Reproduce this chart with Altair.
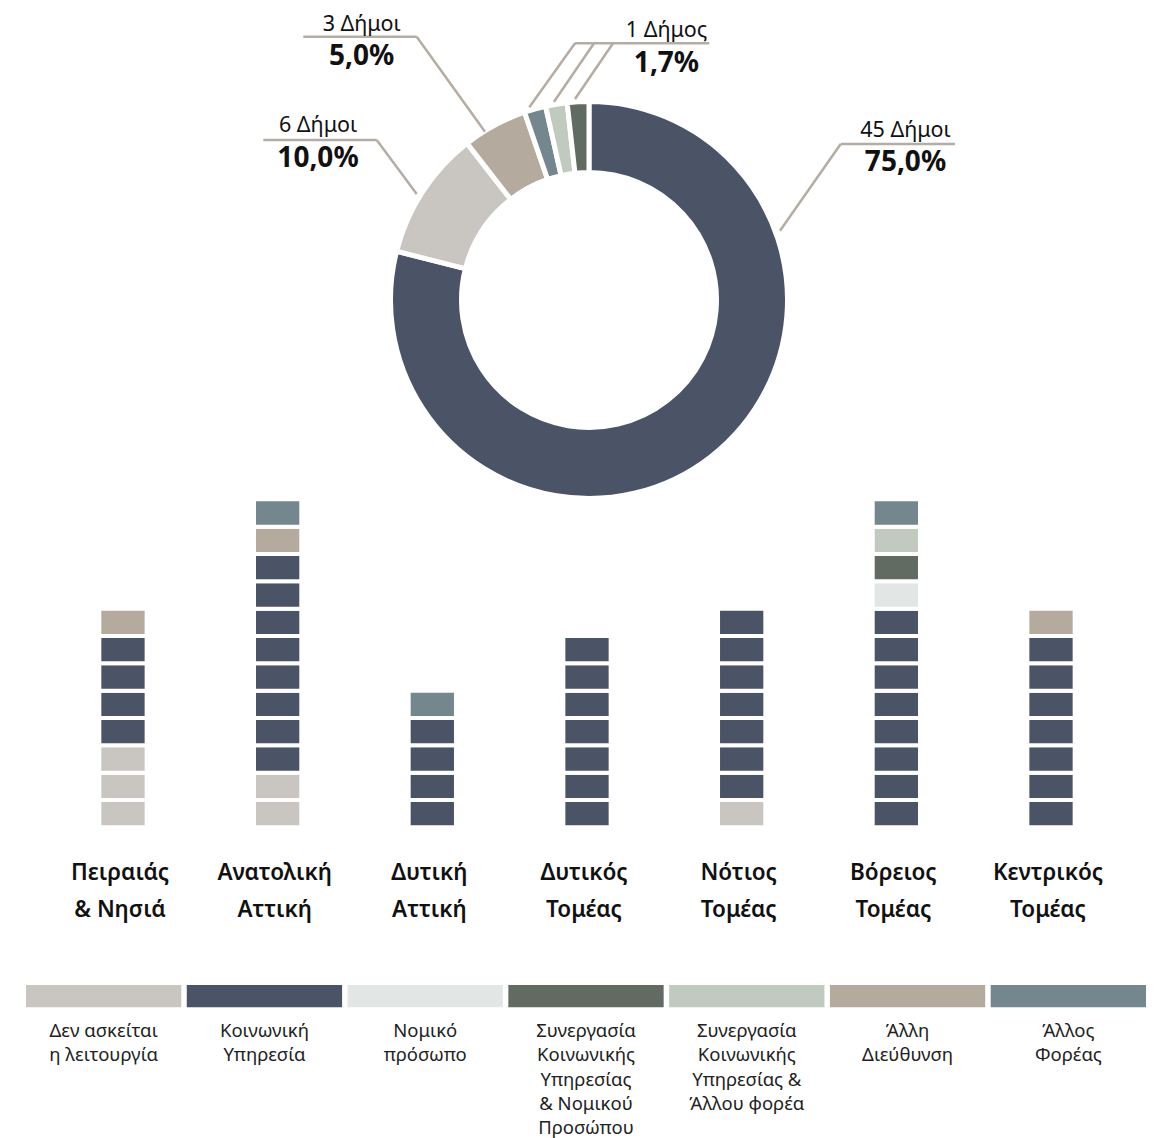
import altair as alt
import pandas as pd

# ---------------- data ----------------
categories = [
    "Δεν ασκείται η λειτουργία",
    "Κοινωνική Υπηρεσία",
    "Νομικό πρόσωπο",
    "Συνεργασία Κοινωνικής Υπηρεσίας & Νομικού Προσώπου",
    "Συνεργασία Κοινωνικής Υπηρεσίας & Άλλου φορέα",
    "Άλλη Διεύθυνση",
    "Άλλος Φορέας",
]
legend_labels = [
    "Δεν ασκείται\nη λειτουργία",
    "Κοινωνική\nΥπηρεσία",
    "Νομικό\nπρόσωπο",
    "Συνεργασία\nΚοινωνικής\nΥπηρεσίας\n& Νομικού\nΠροσώπου",
    "Συνεργασία\nΚοινωνικής\nΥπηρεσίας &\nΆλλου φορέα",
    "Άλλη\nΔιεύθυνση",
    "Άλλος\nΦορέας",
]
colors = ["#C9C6C1", "#4B5366", "#E2E7E5", "#626B61", "#C0CABF", "#B4AA9E", "#74878E"]

regions = ["Πειραιάς & Νησιά", "Ανατολική Αττική", "Δυτική Αττική", "Δυτικός Τομέας",
           "Νότιος Τομέας", "Βόρειος Τομέας", "Κεντρικός Τομέας"]
region_labels = ["Πειραιάς\n& Νησιά", "Ανατολική\nΑττική", "Δυτική\nΑττική", "Δυτικός\nΤομέας",
                 "Νότιος\nΤομέας", "Βόρειος\nΤομέας", "Κεντρικός\nΤομέας"]
# blocks per category (same order as categories), one list per region
counts_peiraias = [3, 4, 0, 0, 0, 1, 0]
counts_anatoliki = [2, 8, 0, 0, 0, 1, 1]
counts_dytiki_attiki = [0, 4, 0, 0, 0, 0, 1]
counts_dytikos = [0, 7, 0, 0, 0, 0, 0]
counts_notios = [1, 7, 0, 0, 0, 0, 0]
counts_voreios = [0, 8, 1, 1, 1, 0, 1]
counts_kentrikos = [0, 7, 0, 0, 0, 1, 0]
region_counts = [counts_peiraias, counts_anatoliki, counts_dytiki_attiki, counts_dytikos,
                 counts_notios, counts_voreios, counts_kentrikos]

donut_categories = [1, 0, 5, 6, 4, 3]   # indices into categories, clockwise from top
donut_counts = [45, 6, 3, 1, 1, 1]
donut_count_labels = ["45 Δήμοι", "6 Δήμοι", "3 Δήμοι", "1 Δήμος"]
donut_pct_labels = ["75,0%", "10,0%", "5,0%", "1,7%"]

# ---------------- layout (pixels inside the chart) ----------------
W, H = 1142, 1130
DONUT_CX, DONUT_CY = 581, 292
label_pos = [(897.5, 129, 163), (310, 123.7, 158.7), (353.7, 22.7, 57), (658.5, 28.7, 63.7)]
leader_segments = [
    (947, 136, 832.7, 136), (832.7, 136, 772, 222.7),
    (255.3, 132, 368.7, 132), (368.7, 132, 408.7, 186),
    (295.3, 28.7, 408.7, 28.7), (408.7, 28.7, 477, 123.7),
    (567, 35.3, 701.3, 35.3), (567, 35.3, 521.3, 99.3),
    (586, 35.3, 546, 93.7), (605, 35.3, 567, 91),
]
COL_RANGE = [37.65, 1120.35]
BLOCK_Y_RANGE = [819.3, 491.3]
BLOCK_MAX = 12

LEG_RANGE = [15.25, 1140.75]

FONT = "Noto Sans"
color_scale = alt.Scale(domain=categories, range=colors)

# ---------------- donut ----------------
donut_df = pd.DataFrame({
    "category": [categories[i] for i in donut_categories],
    "count": donut_counts,
    "order": list(range(len(donut_counts))),
})
donut = alt.Chart(donut_df).mark_arc(
    outerRadius=198.5, innerRadius=127.5, stroke="white", strokeWidth=5
).encode(
    theta=alt.Theta("count:Q", stack=True),
    color=alt.Color("category:N", scale=color_scale, legend=None),
    order=alt.Order("order:Q"),
    x=alt.value(DONUT_CX),
    y=alt.value(DONUT_CY),
)

lead_df = pd.DataFrame(leader_segments, columns=["x", "y", "x2", "y2"])
leaders = alt.Chart(lead_df).mark_rule(color="#B5ADA3", strokeWidth=2.5).encode(
    x=alt.X("x:Q", scale=None, axis=None),
    y=alt.Y("y:Q", scale=None, axis=None),
    x2="x2:Q", y2="y2:Q",
)

lab_df = pd.DataFrame({
    "cnt": donut_count_labels,
    "pct": donut_pct_labels,
    "x": [p[0] for p in label_pos],
    "y1": [p[1] for p in label_pos],
    "y2": [p[2] for p in label_pos],
})
count_text = alt.Chart(lab_df).mark_text(
    font=FONT, fontSize=21.5, color="#111111", align="center", baseline="alphabetic"
).encode(
    x=alt.X("x:Q", scale=None, axis=None),
    y=alt.Y("y1:Q", scale=None, axis=None),
    text="cnt:N",
)
pct_text = alt.Chart(lab_df).mark_text(
    font=FONT, fontSize=28, fontWeight="bold", color="#111111", align="center", baseline="alphabetic"
).encode(
    x=alt.X("x:Q", scale=None, axis=None),
    y=alt.Y("y2:Q", scale=None, axis=None),
    text="pct:N",
)

# ---------------- block columns ----------------
rows = []
for r, cnts in zip(regions, region_counts):
    seq = 0
    for k, n in enumerate(cnts):
        for _ in range(n):
            rows.append({"region": r, "category": categories[k], "seq": seq, "v": 1})
            seq += 1
blocks_df = pd.DataFrame(rows)

region_scale = alt.Scale(domain=regions, range=COL_RANGE, paddingInner=0, paddingOuter=0)
blocks = alt.Chart(blocks_df).mark_bar(width=47.3, stroke="white", strokeWidth=4).encode(
    x=alt.X("region:N", scale=region_scale, axis=None, sort=regions),
    y=alt.Y("v:Q", stack="zero", scale=alt.Scale(domain=[0, BLOCK_MAX], range=BLOCK_Y_RANGE), axis=None),
    color=alt.Color("category:N", scale=color_scale, legend=None),
    order=alt.Order("seq:Q", sort="ascending"),
    detail="seq:Q",
)

reg_df = pd.DataFrame({"region": regions, "label": region_labels})
region_text = alt.Chart(reg_df).mark_text(
    font=FONT, fontSize=22.5, fontWeight=600, color="#111111", align="center",
    baseline="alphabetic", lineBreak="\n", lineHeight=37, dx=-3
).encode(
    x=alt.X("region:N", scale=region_scale, axis=None, sort=regions),
    y=alt.value(872),
    text="label:N",
)

# ---------------- legend ----------------
leg_df = pd.DataFrame({"category": categories, "label": legend_labels})
leg_scale = alt.Scale(domain=categories, range=LEG_RANGE, paddingInner=0.034, paddingOuter=0.017)
leg_rect = alt.Chart(leg_df).mark_rect().encode(
    x=alt.X("category:N", scale=leg_scale, axis=None, sort=categories),
    y=alt.value(977), y2=alt.value(999.3),
    color=alt.Color("category:N", scale=color_scale, legend=None),
)
leg_text = alt.Chart(leg_df).mark_text(
    font=FONT, fontSize=18.5, color="#222222", align="center",
    baseline="alphabetic", lineBreak="\n", lineHeight=24.2
).encode(
    x=alt.X("category:N", scale=leg_scale, axis=None, sort=categories),
    y=alt.value(1029.3),
    text="label:N",
)

chart = alt.layer(
    donut, leaders, count_text, pct_text, blocks, region_text, leg_rect, leg_text
).resolve_scale(x="independent", y="independent").properties(
    width=W, height=H, padding=0, autosize="none"
).configure_view(stroke=None)

chart.save("out.html", embed_options={"renderer": "svg", "actions": False})
